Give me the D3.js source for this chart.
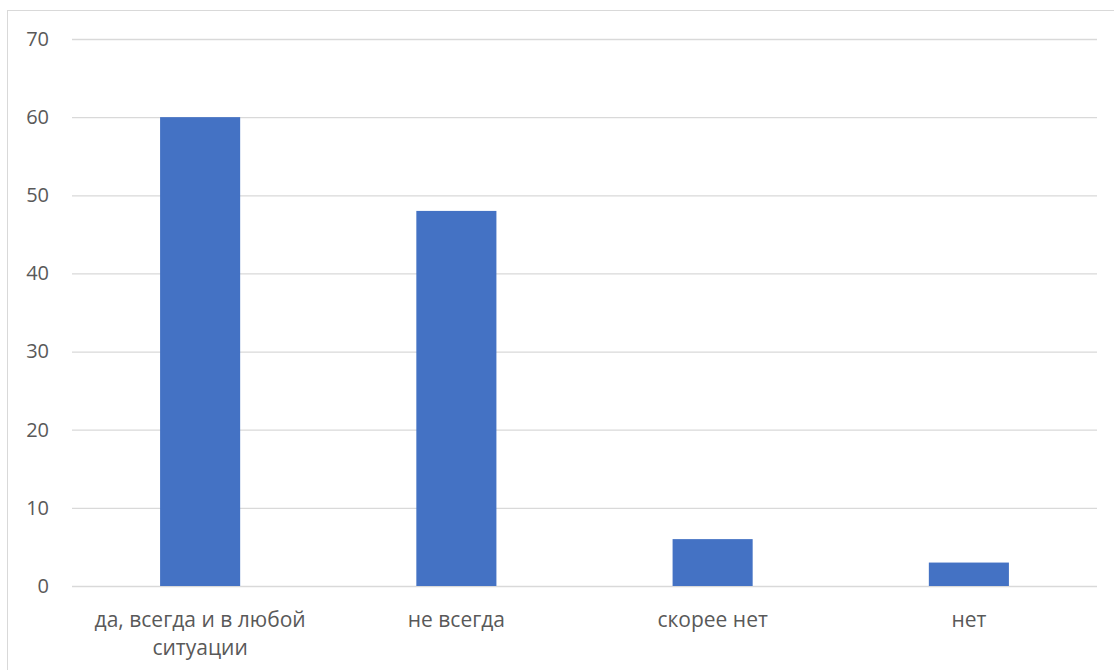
<!DOCTYPE html>
<html><head><meta charset="utf-8">
<script src="https://cdn.jsdelivr.net/npm/d3@7"></script>
<style>body{margin:0;background:#fff;} svg{display:block;font-family:"Open Sans",sans-serif;}</style>
</head><body>
<svg id="c" width="1114" height="670"></svg>
<script>
const categories = [["да, всегда и в любой","ситуации"],["не всегда"],["скорее нет"],["нет"]];
const values = [60, 48, 6, 3];
const yTicks = [0,10,20,30,40,50,60,70];

const svg = d3.select("#c");
svg.append("rect").attr("x",7.5).attr("y",10.5).attr("width",1120).attr("height",670)
  .attr("fill","#fff").attr("stroke","#d9d9d9");

const m = {l:72, r:1097, t:39, b:586};
const x = d3.scaleBand().domain(d3.range(categories.length)).range([m.l,m.r])
  .paddingInner(0.6875).paddingOuter(0.34375);
const y = d3.scaleLinear().domain([0,70]).range([m.b,m.t]);

const gy = svg.append("g").attr("transform",`translate(${m.l},0)`)
  .call(d3.axisLeft(y).tickValues(yTicks).tickSize(-(m.r-m.l)).tickPadding(23).tickFormat(d3.format("d")));
gy.select(".domain").remove();
gy.selectAll(".tick line").attr("stroke","#d9d9d9").attr("stroke-width",1.3);
gy.selectAll(".tick text").attr("fill","#595959").attr("font-size","20px").attr("font-family","'Open Sans',sans-serif");

svg.append("g").selectAll("rect").data(values).join("rect")
  .attr("x",(d,i)=>x(i)).attr("width",x.bandwidth())
  .attr("y",d=>y(d)).attr("height",d=>y(0)-y(d)).attr("fill","#4472c4");

const gl = svg.append("g");
categories.forEach((lines,i)=>{
  const t = gl.append("text").attr("x",x(i)+x.bandwidth()/2).attr("y",627)
    .attr("text-anchor","middle").attr("fill","#595959").attr("font-size","21px");
  lines.forEach((s,j)=>t.append("tspan").attr("x",x(i)+x.bandwidth()/2).attr("dy",j?28:0).text(s));
});
</script>
</body></html>
